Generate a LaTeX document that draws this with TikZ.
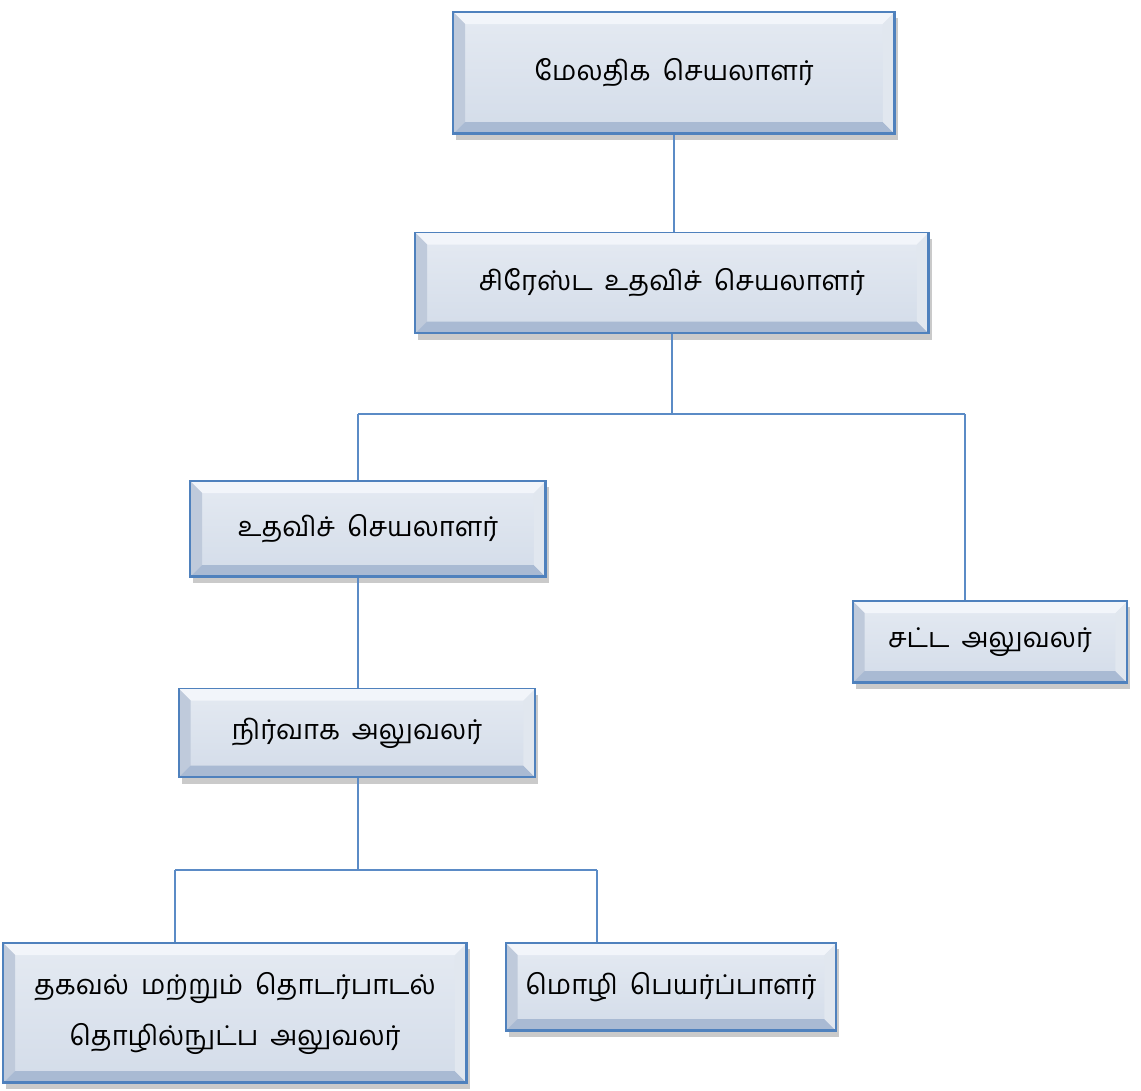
\documentclass[tikz,border=0pt]{standalone}
\usepackage{fontspec}
\newfontfamily\tamilfont[Script=Tamil, WordSpace=1.8]{Hind Madurai}
\usepackage{tikz}
\usetikzlibrary{calc, shadows}
\definecolor{boxblue}{HTML}{4F81BD}
\definecolor{boxface}{HTML}{D3DCE9}
\definecolor{boxtop}{HTML}{F2F5FA}
\definecolor{boxleft}{HTML}{BFCADB}
\definecolor{boxbottom}{HTML}{A9BAD3}
\definecolor{boxright}{HTML}{E1E7EF}
\definecolor{linkblue}{HTML}{5B8BC6}
\tikzset{
    bevel/.store in=\bevelsize, bevel=0.24cm,
    orgbox/.style={rectangle, draw=boxblue, line width=1.1pt, top color=boxface!60!white, bottom color=boxface,
        align=center, font=\tamilfont\fontsize{15.5}{29}\selectfont,
        drop shadow={shadow xshift=0.6mm, shadow yshift=-1.2mm, opacity=0.35, fill=black!60},
        path picture={
            \fill[boxtop] (path picture bounding box.north west) -- (path picture bounding box.north east)
                -- ($(path picture bounding box.north east)+(-\bevelsize,-\bevelsize)$)
                -- ($(path picture bounding box.north west)+(\bevelsize,-\bevelsize)$) -- cycle;
            \fill[boxleft] (path picture bounding box.north west) -- (path picture bounding box.south west)
                -- ($(path picture bounding box.south west)+(\bevelsize,\bevelsize)$)
                -- ($(path picture bounding box.north west)+(\bevelsize,-\bevelsize)$) -- cycle;
            \fill[boxbottom] (path picture bounding box.south west) -- (path picture bounding box.south east)
                -- ($(path picture bounding box.south east)+(-\bevelsize,\bevelsize)$)
                -- ($(path picture bounding box.south west)+(\bevelsize,\bevelsize)$) -- cycle;
            \fill[boxright] (path picture bounding box.north east) -- (path picture bounding box.south east)
                -- ($(path picture bounding box.south east)+(-\bevelsize,\bevelsize)$)
                -- ($(path picture bounding box.north east)+(-\bevelsize,-\bevelsize)$) -- cycle;
            \draw[boxblue, line width=2.2pt] (path picture bounding box.south west) -- (path picture bounding box.south east)
                -- (path picture bounding box.north east);
        }},
    link/.style={draw=linkblue, line width=1pt}
}

\begin{document}
\begin{tikzpicture}[x=0.02cm, y=-0.02cm]
    \useasboundingbox (0,0) rectangle (1141,1090);
    % boxes
    \node[orgbox, minimum width=8.84cm, minimum height=2.44cm] (addl) at (674,73) {மேலதிக செயலாளர்};
    \node[orgbox, minimum width=10.28cm, minimum height=2.02cm] (senior) at (672,283) {சிரேஸ்ட உதவிச் செயலாளர்};
    \node[orgbox, minimum width=7.12cm, minimum height=1.92cm] (asst) at (368,529) {உதவிச் செயலாளர்};
    \node[orgbox, minimum width=5.5cm, minimum height=1.64cm] (legal) at (990,642) {சட்ட அலுவலர்};
    \node[orgbox, minimum width=7.14cm, minimum height=1.78cm] (admin) at (357,733) {நிர்வாக அலுவலர்};
    \node[orgbox, minimum width=9.28cm, minimum height=2.8cm] (ict) at (235,1013) {தகவல் மற்றும் தொடர்பாடல்\\தொழில்நுட்ப அலுவலர்};
    \node[orgbox, minimum width=6.62cm, minimum height=1.76cm] (trans) at (671,987) {மொழி பெயர்ப்பாளர்};
    % connectors
    \coordinate (split1) at (674,414);
    \coordinate (split1L) at (358,414);
    \coordinate (split1R) at (965,414);
    \coordinate (split2) at (358,870);
    \coordinate (split2L) at (175,870);
    \coordinate (split2R) at (597,870);
    \draw[link] (addl.south) -- (addl.south |- senior.north);
    \draw[link] (senior.south) -- (senior.south |- split1);
    \draw[link] (split1L) -- (split1R);
    \draw[link] (split1L) -- (split1L |- asst.north);
    \draw[link] (split1R) -- (split1R |- legal.north);
    \draw[link] (split1L |- asst.south) -- (split1L |- admin.north);
    \draw[link] (split2 |- admin.south) -- (split2);
    \draw[link] (split2L) -- (split2R);
    \draw[link] (split2L) -- (split2L |- ict.north);
    \draw[link] (split2R) -- (split2R |- trans.north);
\end{tikzpicture}
\end{document}
